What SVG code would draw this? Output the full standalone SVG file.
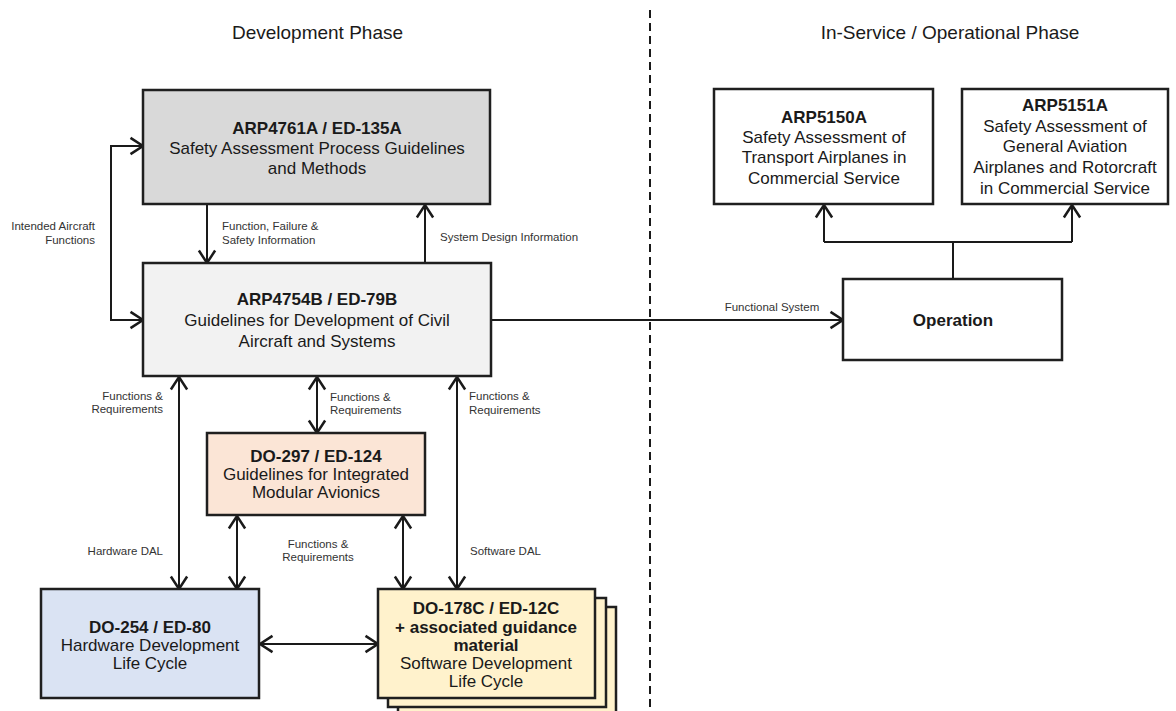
<svg xmlns="http://www.w3.org/2000/svg" width="1176" height="711" viewBox="0 0 1176 711">
<style>
  .box { stroke: #1f1f1f; stroke-width: 2.5; }
  .t { font-family: "Liberation Sans", Arial, sans-serif; font-size: 17px; fill: #1a1a1a; text-anchor: middle; dominant-baseline: central; }
  .b { font-weight: bold; }
  .ph { font-family: "Liberation Sans", Arial, sans-serif; font-size: 19px; fill: #1a1a1a; text-anchor: middle; dominant-baseline: central; }
  .lbl { font-family: "Liberation Sans", Arial, sans-serif; font-size: 11.5px; fill: #333; dominant-baseline: central; }
  .conn { fill: none; stroke: #1a1a1a; stroke-width: 2; }
  .div { fill: none; stroke: #1a1a1a; stroke-width: 2; stroke-dasharray: 8 5; }
</style>
<defs>
  <marker id="arr" markerUnits="userSpaceOnUse" markerWidth="20" markerHeight="20" viewBox="-12 -8 14 16" refX="0" refY="0" orient="auto-start-reverse">
    <path d="M -10 -6.5 L 0 0 L -10 6.5" fill="none" stroke="#1a1a1a" stroke-width="2"/>
  </marker>
</defs>

<rect width="1176" height="711" fill="#fff"/>

<text class="ph" x="317.5" y="32">Development Phase</text>
<text class="ph" x="950" y="32">In-Service / Operational Phase</text>

<line class="div" x1="650" y1="10" x2="650" y2="711"/>

<g id="connectors">
  <path class="conn" d="M 143 146 L 111 146 L 111 320 L 143 320" marker-start="url(#arr)" marker-end="url(#arr)"/>
  <path class="conn" d="M 207 205 L 207 263" marker-end="url(#arr)"/>
  <path class="conn" d="M 425 263 L 425 205" marker-end="url(#arr)"/>
  <path class="conn" d="M 179 377 L 179 589" marker-start="url(#arr)" marker-end="url(#arr)"/>
  <path class="conn" d="M 317 377 L 317 433" marker-start="url(#arr)" marker-end="url(#arr)"/>
  <path class="conn" d="M 457 377 L 457 589" marker-start="url(#arr)" marker-end="url(#arr)"/>
  <path class="conn" d="M 237 516 L 237 589" marker-start="url(#arr)" marker-end="url(#arr)"/>
  <path class="conn" d="M 403 516 L 403 589" marker-start="url(#arr)" marker-end="url(#arr)"/>
  <path class="conn" d="M 260 644 L 378 644" marker-start="url(#arr)" marker-end="url(#arr)"/>
  <path class="conn" d="M 491 320 L 843 320" marker-end="url(#arr)"/>
  <path class="conn" d="M 953 279 L 953 242"/>
  <path class="conn" d="M 824 242 L 1072 242"/>
  <path class="conn" d="M 824 242 L 824 205" marker-end="url(#arr)"/>
  <path class="conn" d="M 1072 242 L 1072 205" marker-end="url(#arr)"/>

  <text class="lbl" x="95" y="226" text-anchor="end">Intended Aircraft</text>
  <text class="lbl" x="95" y="240" text-anchor="end">Functions</text>
  <text class="lbl" x="222" y="226">Function, Failure &amp;</text>
  <text class="lbl" x="222" y="240">Safety Information</text>
  <text class="lbl" x="440" y="237">System Design Information</text>
  <text class="lbl" x="163" y="396" text-anchor="end">Functions &amp;</text>
  <text class="lbl" x="163" y="409" text-anchor="end">Requirements</text>
  <text class="lbl" x="330" y="397">Functions &amp;</text>
  <text class="lbl" x="330" y="410">Requirements</text>
  <text class="lbl" x="469" y="396">Functions &amp;</text>
  <text class="lbl" x="469" y="410">Requirements</text>
  <text class="lbl" x="163" y="551" text-anchor="end">Hardware DAL</text>
  <text class="lbl" x="318" y="544" text-anchor="middle">Functions &amp;</text>
  <text class="lbl" x="318" y="557" text-anchor="middle">Requirements</text>
  <text class="lbl" x="470" y="551">Software DAL</text>
  <text class="lbl" x="772" y="307" text-anchor="middle">Functional System</text>
</g>

<g id="arp4761a">
  <rect class="box" x="143" y="90" width="347" height="114" fill="#d9d9d9"/>
  <text class="t b" x="317" y="128">ARP4761A / ED-135A</text>
  <text class="t" x="317" y="148">Safety Assessment Process Guidelines</text>
  <text class="t" x="317" y="168">and Methods</text>
</g>

<g id="arp4754b">
  <rect class="box" x="143" y="263" width="348" height="113" fill="#f2f2f2"/>
  <text class="t b" x="317" y="299">ARP4754B / ED-79B</text>
  <text class="t" x="317" y="320">Guidelines for Development of Civil</text>
  <text class="t" x="317" y="341">Aircraft and Systems</text>
</g>

<g id="do297">
  <rect class="box" x="207" y="433" width="218" height="82" fill="#fbe5d6"/>
  <text class="t b" x="316" y="456">DO-297 / ED-124</text>
  <text class="t" x="316" y="474">Guidelines for Integrated</text>
  <text class="t" x="316" y="492">Modular Avionics</text>
</g>

<g id="do254">
  <rect class="box" x="41" y="589" width="218" height="109" fill="#dae3f3"/>
  <text class="t b" x="150" y="627">DO-254 / ED-80</text>
  <text class="t" x="150" y="645">Hardware Development</text>
  <text class="t" x="150" y="663">Life Cycle</text>
</g>

<g id="do178c">
  <rect class="box" x="398" y="607" width="218" height="112" fill="#fff2cc"/>
  <rect class="box" x="388" y="598" width="218" height="109" fill="#fff2cc"/>
  <rect class="box" x="378" y="589" width="217" height="109" fill="#fff2cc"/>
  <text class="t b" x="486" y="608">DO-178C / ED-12C</text>
  <text class="t b" x="486" y="627">+ associated guidance</text>
  <text class="t b" x="486" y="645">material</text>
  <text class="t" x="486" y="663">Software Development</text>
  <text class="t" x="486" y="681">Life Cycle</text>
</g>

<g id="arp5150a">
  <rect class="box" x="714" y="89" width="219" height="115" fill="#fff"/>
  <text class="t b" x="824" y="117">ARP5150A</text>
  <text class="t" x="824" y="137">Safety Assessment of</text>
  <text class="t" x="824" y="157">Transport Airplanes in</text>
  <text class="t" x="824" y="178">Commercial Service</text>
</g>

<g id="arp5151a">
  <rect class="box" x="962" y="89" width="206" height="115" fill="#fff"/>
  <text class="t b" x="1065" y="105">ARP5151A</text>
  <text class="t" x="1065" y="126">Safety Assessment of</text>
  <text class="t" x="1065" y="146">General Aviation</text>
  <text class="t" x="1065" y="167">Airplanes and Rotorcraft</text>
  <text class="t" x="1065" y="188">in Commercial Service</text>
</g>

<g id="operation">
  <rect class="box" x="843" y="279" width="219" height="81" fill="#fff"/>
  <text class="t b" x="953" y="320">Operation</text>
</g>
</svg>
